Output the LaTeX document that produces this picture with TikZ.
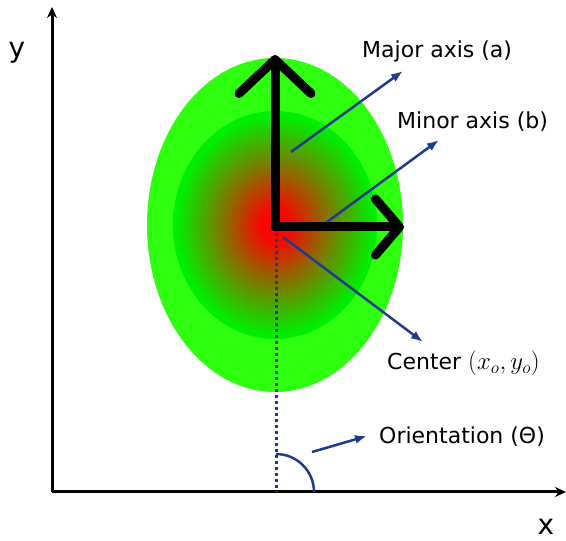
\documentclass[tikz,border=0pt]{standalone}
\usepackage{fontspec}
\setmainfont{DejaVu Sans}
\definecolor{blobgreen}{HTML}{2EFF0E}
\definecolor{coregreen}{HTML}{00EE00}
\definecolor{ptrblue}{HTML}{1E3C8E}
\usetikzlibrary{arrows.meta}
\pgfdeclareradialshading{hotcore}{\pgfpointorigin}{color(0bp)=(red); color(4bp)=(red!95!coregreen);
  color(13bp)=(red!50!coregreen); color(24bp)=(coregreen); color(50bp)=(coregreen)}

\begin{document}
\begin{tikzpicture}[x=1pt,y=1pt,
    axis/.style={line width=3pt,-{Stealth[length=11pt,width=10pt]}},
    bigarrow/.style={line width=9pt,line cap=round},
    ptr/.style={ptrblue,line width=2.5pt,-{Latex[length=12pt,width=9pt]}},
    lbl/.style={font=\fontsize{22}{26}\selectfont,anchor=base west,inner sep=0pt},
    axlbl/.style={font=\fontsize{28}{32}\selectfont,anchor=base,inner sep=0pt}]
  \useasboundingbox (0,0) rectangle (566,541);
  % axes
  \coordinate (O) at (52,49);
  \coordinate (ytop) at (52,534);
  \coordinate (xend) at (566,49);
  \draw[axis] (O) -- (ytop);
  \draw[axis] (O) -- (xend);
  \node[axlbl] (ylab) at (17,483) {y};
  \node[axlbl] (xlab) at (546,6) {x};
  % blob
  \coordinate (C) at (275,316);
  \fill[blobgreen] (C) ellipse [x radius=128, y radius=167];
  \shade[shading=hotcore] (C) ellipse [x radius=102, y radius=114];
  % orientation guide
  \coordinate (foot) at (276,49);
  \draw[ptrblue,line width=3pt,dash pattern=on 3pt off 3pt] (276,314) -- (foot);
  \draw[ptrblue,line width=2.5pt] (276,87) arc[start angle=90,end angle=0,radius=38];
  % axes of the ellipse
  \coordinate (corner) at (275,314);
  \coordinate (atip) at (275,486);
  \coordinate (btip) at (404,314);
  \draw[bigarrow,-{Straight Barb[length=34pt,width=72pt,round]}] (corner) -- (atip);
  \draw[bigarrow,-{Straight Barb[length=24pt,width=56pt,round]}] (corner) -- (btip);
  % labels
  \node[lbl] (major) at (362,483) {Major axis (a)};
  \node[lbl] (minor) at (397,412) {Minor axis (b)};
  \node[lbl] (center) at (387,171) {Center {\fontsize{25}{28}\selectfont$(x_o,y_o)$}};
  \node[lbl] (orient) at (379,97) {Orientation (Θ)};
  \coordinate (majfrom) at (291,389);
  \coordinate (majto) at (403,470);
  \coordinate (minfrom) at (327,319);
  \coordinate (minto) at (439,401);
  \coordinate (cenfrom) at (283,304);
  \coordinate (cento) at (423,199);
  \coordinate (orifrom) at (312,89);
  \coordinate (orito) at (367,105);
  \draw[ptr] (majfrom) -- (majto);
  \draw[ptr] (minfrom) -- (minto);
  \draw[ptr] (cenfrom) -- (cento);
  \draw[ptr] (orifrom) -- (orito);
\end{tikzpicture}
\end{document}
